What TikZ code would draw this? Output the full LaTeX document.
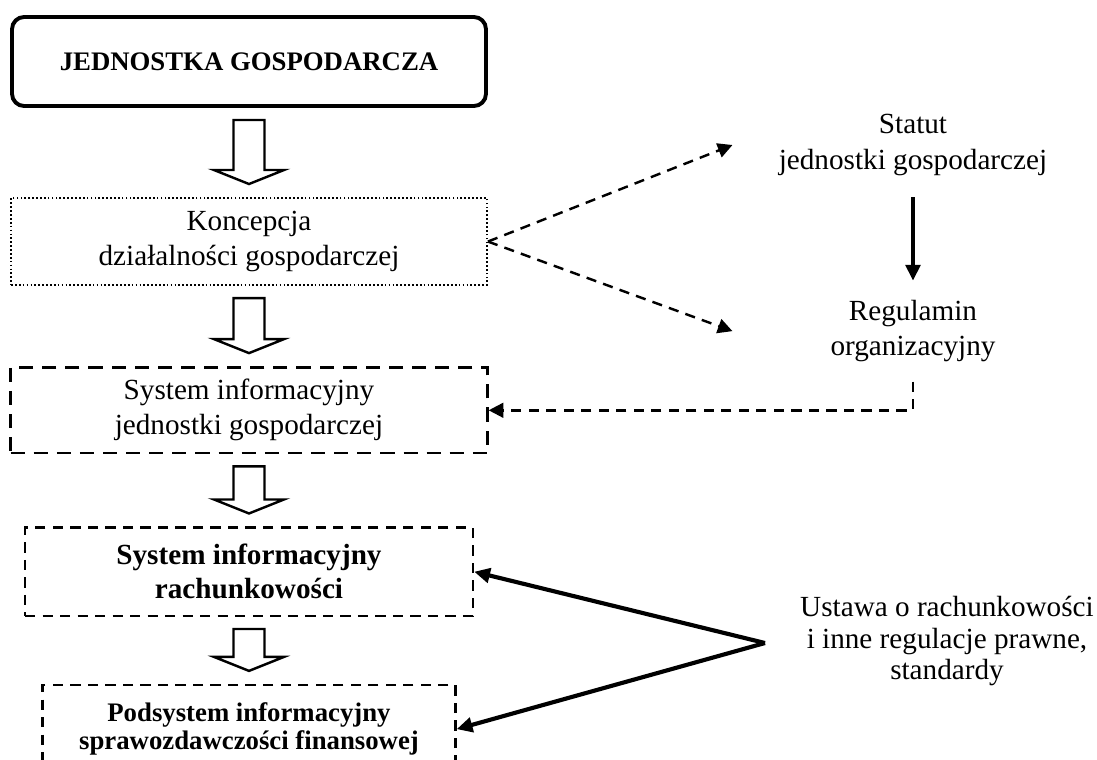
\documentclass[tikz,border=0pt]{standalone}
\usepackage{fontspec}
\setmainfont{Liberation Serif}
\usetikzlibrary{arrows.meta, positioning, calc}

% block arrow between two boxes of the main column
\newcommand{\hollowarrow}[2]{%
  \draw[hollow] ($(#1.south)+(-15.5,12)$) -- ($(#2.north)+(-15.5,-27)$)
    -- ($(#2.north)+(-35,-27)$) -- ($(#2.north)+(0,-13)$)
    -- ($(#2.north)+(35,-27)$) -- ($(#2.north)+(15.5,-27)$)
    -- ($(#1.south)+(15.5,12)$) -- cycle;}

\begin{document}
\begin{tikzpicture}[
  x=0.411pt, y=-0.411pt,
  font=\fontsize{12}{14.4}\selectfont,
  box/.style={align=center, inner sep=0pt},
  unitbox/.style={box, draw, line width=1.6pt, rounded corners=5pt, font=\fontsize{11}{13}\selectfont\bfseries},
  dotbox/.style={box, draw, line width=0.8pt, dash pattern=on 0.7pt off 0.9pt},
  dashbox/.style={box, draw, line width=1pt, dash pattern=on 4.2pt off 3pt},
  hollow/.style={line width=1pt, fill=white},
  dasharrow/.style={-{Triangle[length=6pt, width=6pt]}, line width=1pt, dash pattern=on 4.2pt off 3pt},
  solidarrow/.style={-{Triangle[length=6.5pt, width=6pt]}, line width=1.7pt}
]
  \useasboundingbox (0,0) rectangle (1097,760);

  % main column
  \node[unitbox, minimum width=194.8pt, minimum height=36.6pt] (unit) at (249,61.5) {JEDNOSTKA GOSPODARCZA};
  \node[dotbox, minimum width=195.6pt, minimum height=35.8pt, below=36.6pt of unit] (concept) {Koncepcja\\działalności gospodarczej};
  \node[dashbox, dash pattern=on 5.8pt off 3.7pt, minimum width=196pt, minimum height=35.3pt, below=32.9pt of concept] (infosys) {System informacyjny\\jednostki gospodarczej};
  \node[dashbox, font=\fontsize{12}{14}\selectfont\bfseries, minimum width=184.1pt, minimum height=36.2pt, below=29.6pt of infosys] (accsys) {System informacyjny\\rachunkowości};
  \node[dashbox, font=\fontsize{11}{11.6}\selectfont\bfseries, minimum width=169.7pt, minimum height=36.2pt, below=27.5pt of accsys] (finrep) {Podsystem informacyjny\\sprawozdawczości finansowej};

  \foreach \a/\b in {unit/concept, concept/infosys, infosys/accsys, accsys/finrep}
    \hollowarrow{\a}{\b};

  % right column
  \node[box, minimum width=148pt, minimum height=42.7pt] (statute) at (913,145) {Statut\\jednostki gospodarczej};
  \node[box, minimum width=148pt, minimum height=41.1pt, below=34.2pt of statute] (rules) {Regulamin\\organizacyjny};
  \node[box, font=\fontsize{12}{13}\selectfont] (law) at (947,641) {Ustawa o rachunkowości\\i inne regulacje prawne,\\standardy};
  \coordinate (fork) at (765,643);

  \draw[dasharrow] (concept.east) -- (statute.west);
  \draw[dasharrow] (concept.east) -- (rules.west);
  \draw[solidarrow] (statute) -- (rules);
  \draw[dasharrow] (rules.south) |- (infosys.east);
  \draw[solidarrow] (fork) -- (accsys.east);
  \draw[solidarrow] (fork) -- (finrep.east);
\end{tikzpicture}
\end{document}
